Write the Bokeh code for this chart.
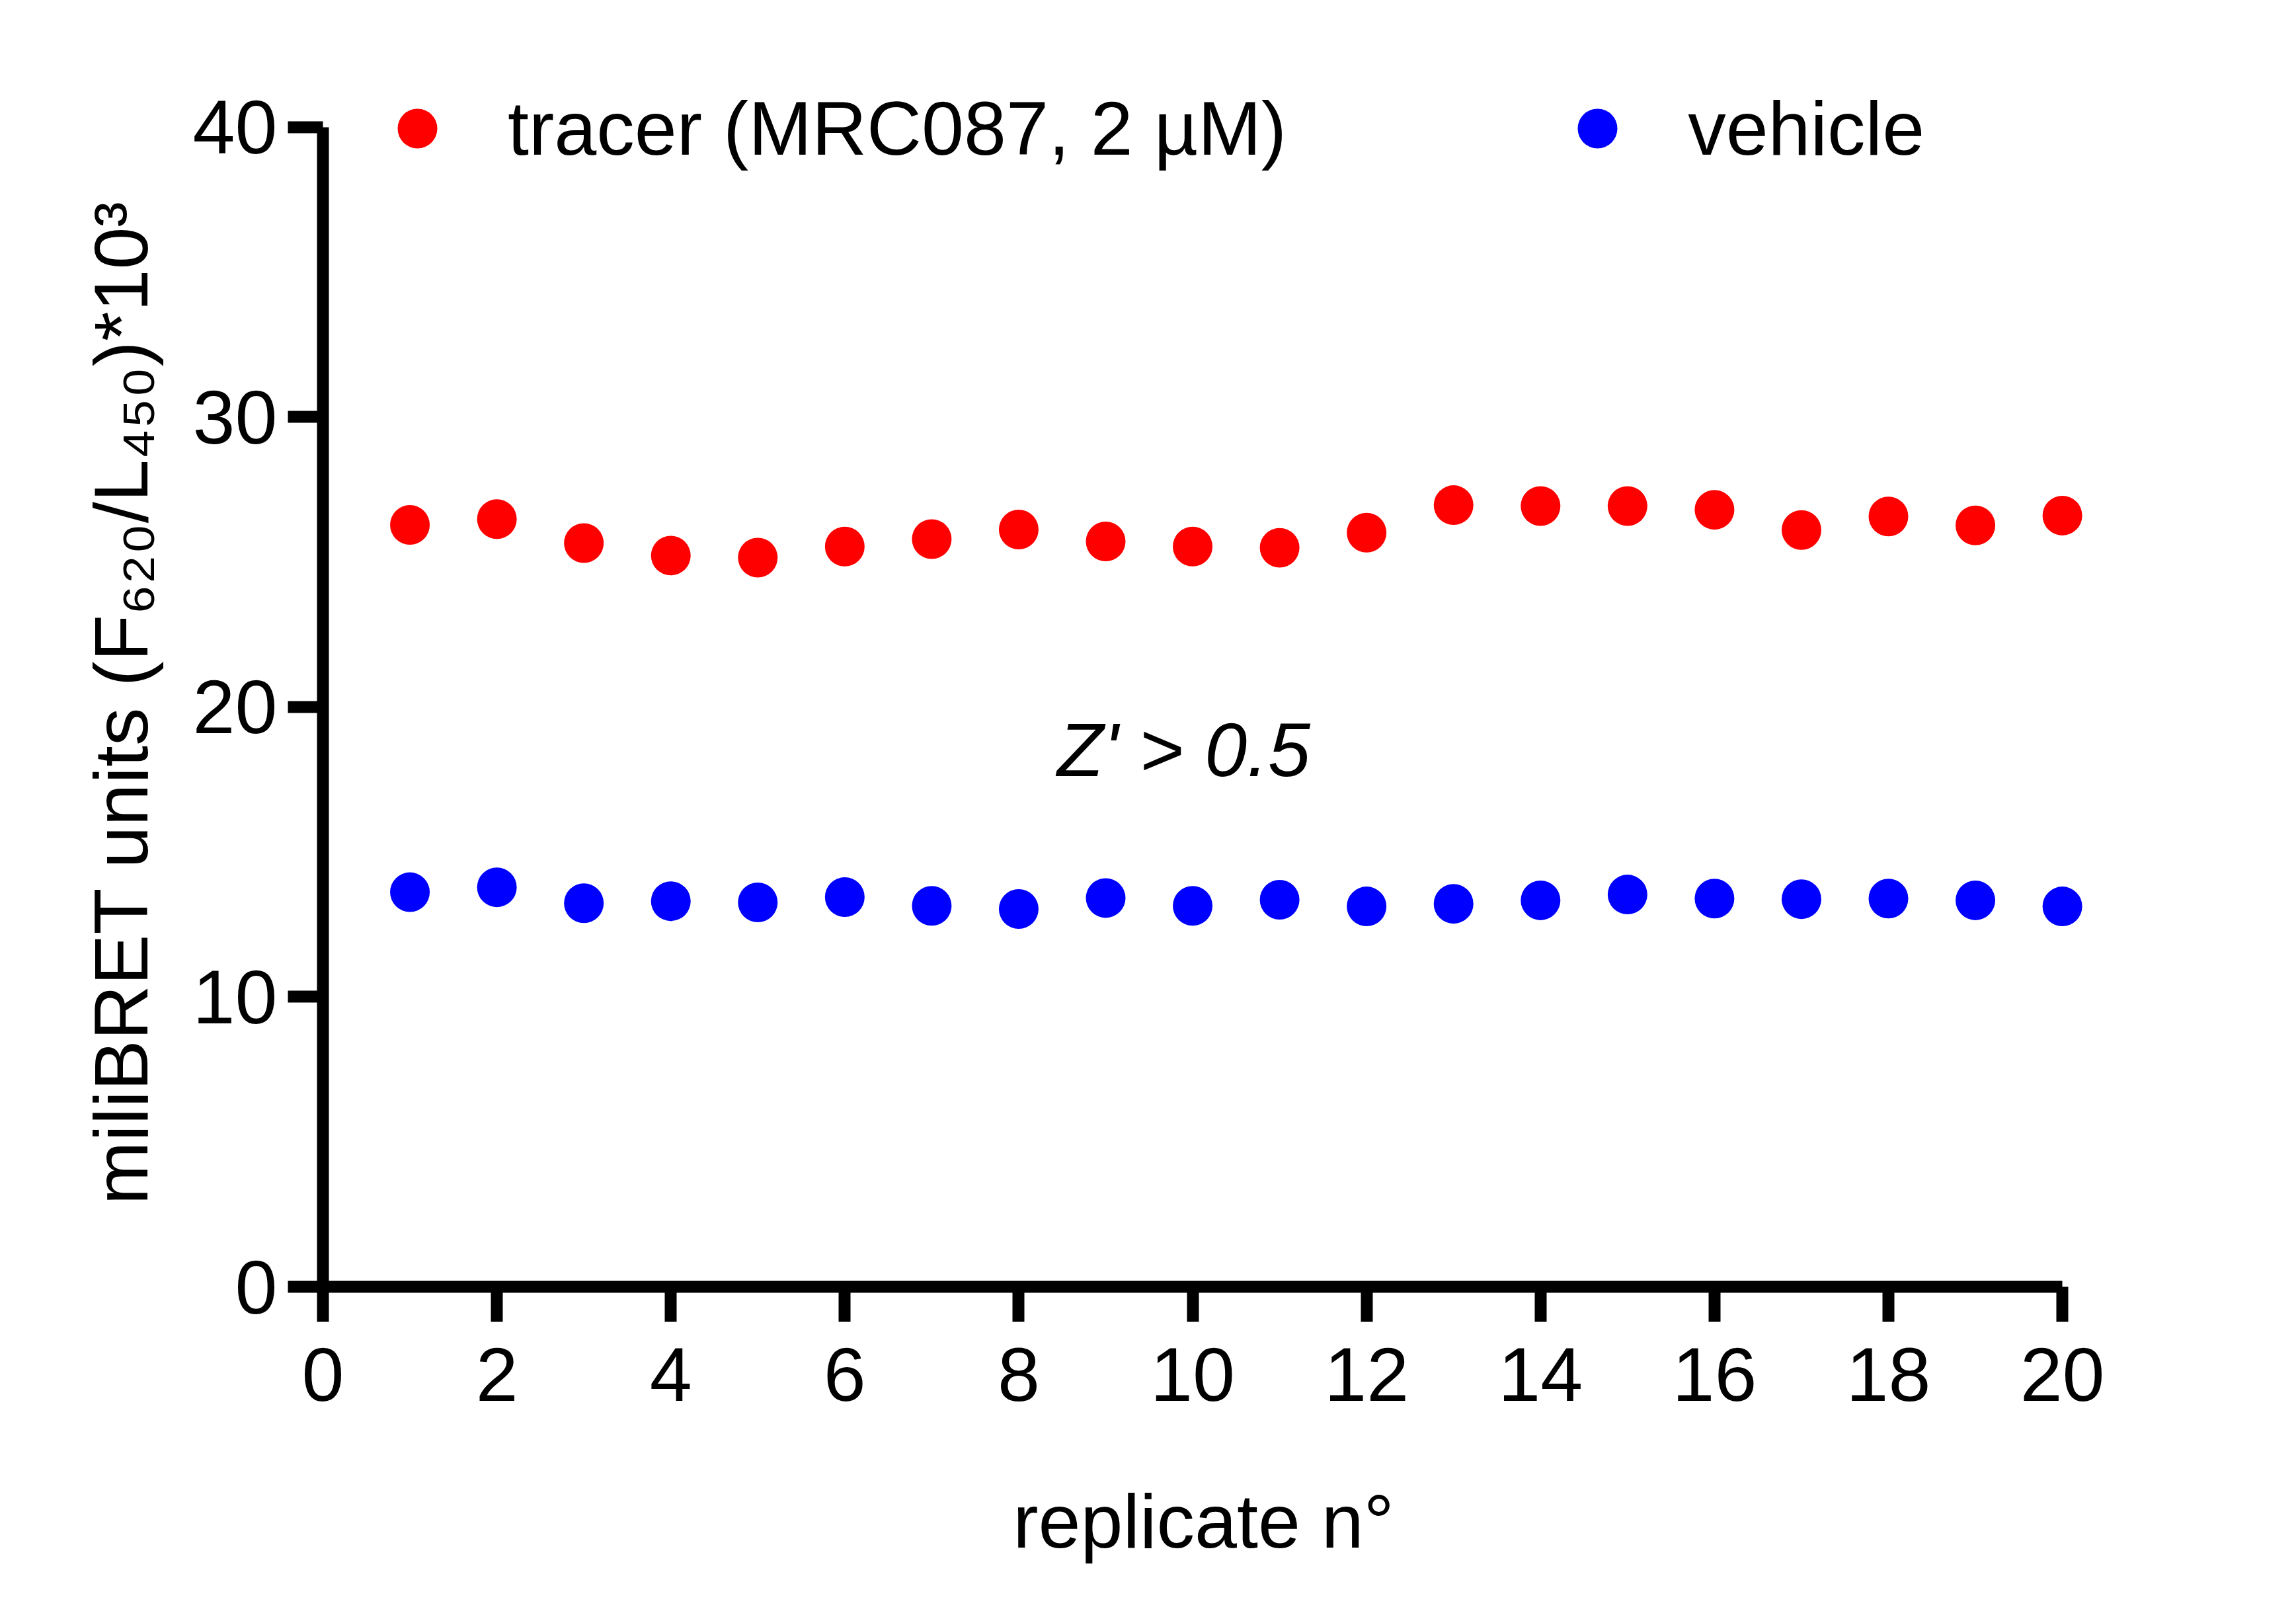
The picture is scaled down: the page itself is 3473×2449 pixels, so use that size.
from bokeh.plotting import figure
from bokeh.models import Range1d, FixedTicker, Label, Legend, Title
from bokeh.embed import file_html
from bokeh.resources import INLINE

# ---------------- data ----------------
replicates = list(range(1, 21))
tracer = [26.28, 26.48, 25.65, 25.22, 25.15, 25.53, 25.79, 26.12, 25.71, 25.53,
          25.49, 26.01, 26.96, 26.93, 26.93, 26.80, 26.10, 26.57, 26.26, 26.60]
vehicle = [13.61, 13.78, 13.23, 13.30, 13.26, 13.44, 13.14, 13.03, 13.41, 13.14,
           13.35, 13.12, 13.21, 13.33, 13.53, 13.39, 13.37, 13.39, 13.33, 13.12]
x_ticks = list(range(0, 21, 2))
y_ticks = [0, 10, 20, 30, 40]
series_labels = ["tracer (MRC087, 2 µM)", "vehicle"]
x_title = "replicate n°"
y_title = "miliBRET units (F₆₂₀/L₄₅₀)*10³"
annotation = "Z' > 0.5"

# ---------------- layout ----------------
FIG_W, FIG_H = 3457, 2433
X0_PX, Y0_PX = 488, 1946       # screen position of data (0, 0)
PX_X, PX_Y = 131.55, 43.85     # px per data unit
X_END, Y_END = 20.25, 42.0     # ranges reach a bit past the axis bounds
FRAME_LEFT = X0_PX
FRAME_W = round(X_END * PX_X)
FRAME_TOP = round(Y0_PX - Y_END * PX_Y)
FRAME_H = Y0_PX - FRAME_TOP
FONT = "Liberation Sans"
FS = 115
Y_TITLE_START = 1822           # screen y where the rotated y title begins


def dx(px):  # figure px -> data x
    return (px - FRAME_LEFT) / (FRAME_W / X_END)


def dy(py):  # figure px -> data y
    return (FRAME_TOP + FRAME_H - py) / (FRAME_H / Y_END)


p = figure(width=FIG_W, height=FIG_H,
           x_range=Range1d(0, X_END), y_range=Range1d(0, Y_END),
           output_backend="svg", toolbar_location=None,
           min_border_left=FRAME_LEFT, min_border_top=FRAME_TOP,
           min_border_right=FIG_W - FRAME_LEFT - FRAME_W,
           min_border_bottom=FIG_H - FRAME_TOP - FRAME_H)
p.xgrid.visible = False
p.ygrid.visible = False
p.outline_line_color = None
p.background_fill_color = "white"
p.border_fill_color = "white"

for ax in (p.xaxis[0], p.yaxis[0]):
    ax.axis_line_width = 18
    ax.axis_line_color = "black"
    ax.major_tick_line_width = 18
    ax.major_tick_line_color = "black"
    ax.major_tick_out = 53
    ax.major_tick_in = 0
    ax.minor_tick_line_color = None
    ax.major_label_text_font = FONT
    ax.major_label_text_font_size = f"{FS}px"
    ax.major_label_text_color = "black"
    ax.axis_label_text_font = FONT
    ax.axis_label_text_font_size = f"{FS}px"
    ax.axis_label_text_font_style = "normal"
    ax.axis_label_text_color = "black"

p.xaxis.ticker = FixedTicker(ticks=x_ticks)
p.xaxis.bounds = (0, 20)
p.yaxis.ticker = FixedTicker(ticks=y_ticks)
p.yaxis.bounds = (0, 40)
p.yaxis.major_label_standoff = 16
p.xaxis.major_label_standoff = 39

p.xaxis.axis_label = x_title
p.xaxis.axis_label_standoff = 115

# y title as a left side-panel title, anchored at its start
p.add_layout(Title(text=y_title, align="left", offset=Y0_PX - Y_TITLE_START,
                   standoff=84, text_font=FONT, text_font_size=f"{FS}px",
                   text_font_style="normal", text_color="black"), "left")

r1 = p.scatter(replicates, tracer, size=60, fill_color="#FF0000", line_color=None)
r2 = p.scatter(replicates, vehicle, size=60, fill_color="#0000FF", line_color=None)

legend = Legend(items=[(series_labels[0], [r1]), (series_labels[1], [r2])],
                location=(556 - FRAME_LEFT, Y0_PX - 194 - 75), orientation="horizontal",
                glyph_width=150, glyph_height=150, label_standoff=62, spacing=395,
                padding=0, margin=0, border_line_color=None,
                background_fill_alpha=0,
                label_text_font=FONT, label_text_font_size=f"{FS}px",
                label_text_color="black")
p.add_layout(legend)

# annotation
p.add_layout(Label(x=dx(1790), y=dy(1133), text=annotation, text_align="center",
                   text_baseline="alphabetic", text_font=FONT,
                   text_font_size=f"{FS}px", text_font_style="italic",
                   text_color="black"))

open("out.html", "w").write(file_html(p, INLINE))
